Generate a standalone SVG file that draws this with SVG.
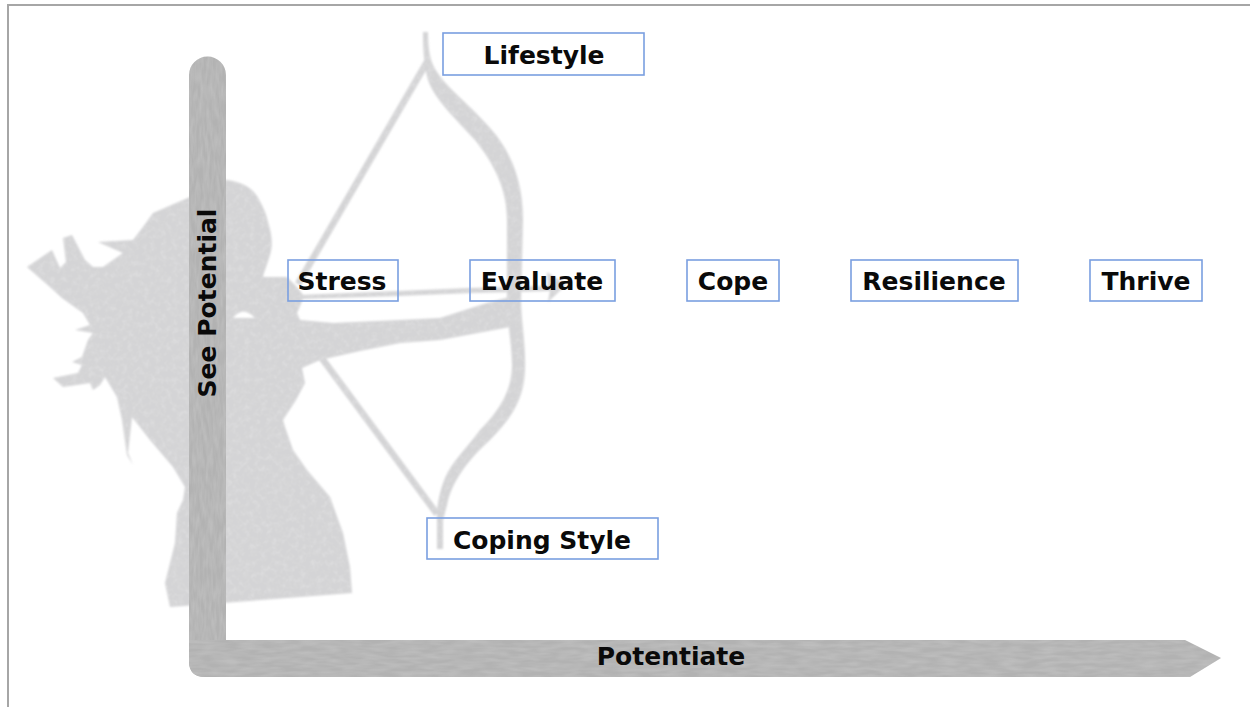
<svg xmlns="http://www.w3.org/2000/svg" width="1250" height="707" viewBox="0 0 1250 707">
<style>
.box{fill:none;stroke:#7a9fe0;stroke-width:1.6}
.t{font-family:"DejaVu Sans",sans-serif;font-weight:700;font-size:25px;fill:#0a0a0a;text-anchor:middle}
.frame{fill:none;stroke:#a6a6a6;stroke-width:2}
.bar{fill:#b2b2b2}
.str{fill:none;stroke:#d4d4d6;stroke-width:6.500}
</style>
<defs>
<filter id="texV" x="-5%" y="-5%" width="110%" height="110%"><feGaussianBlur in="SourceGraphic" stdDeviation="0.5" result="s"/><feTurbulence type="fractalNoise" baseFrequency="0.3 0.06" numOctaves="2" seed="3" result="n"/><feColorMatrix in="n" type="matrix" values="0 0 0 0 .62  0 0 0 0 .62  0 0 0 0 .62  0 0 0 .7 -.2"/><feComposite in2="s" operator="in" result="c"/><feMerge><feMergeNode in="s"/><feMergeNode in="c"/></feMerge></filter>
<filter id="texH" x="-1%" y="-5%" width="102%" height="110%"><feGaussianBlur in="SourceGraphic" stdDeviation="0.5" result="s"/><feTurbulence type="fractalNoise" baseFrequency="0.05 0.25" numOctaves="2" seed="8" result="n"/><feColorMatrix in="n" type="matrix" values="0 0 0 0 .62  0 0 0 0 .62  0 0 0 0 .62  0 0 0 .7 -.2"/><feComposite in2="s" operator="in" result="c"/><feMerge><feMergeNode in="s"/><feMergeNode in="c"/></feMerge></filter>
<filter id="sil" x="-3%" y="-3%" width="106%" height="106%"><feGaussianBlur in="SourceGraphic" stdDeviation="0.8" result="s"/><feTurbulence type="fractalNoise" baseFrequency="0.18" numOctaves="2" seed="5" result="n"/><feColorMatrix in="n" type="matrix" values="0 0 0 0 .88  0 0 0 0 .88  0 0 0 0 .88  0 0 0 .5 -.2"/><feComposite in2="s" operator="in" result="c"/><feMerge><feMergeNode in="s"/><feMergeNode in="c"/></feMerge></filter>
</defs>
<rect width="1250" height="707" fill="#fff"/>
<path class="frame" d="M8 707V5H1250"/>
<g id="archer" filter="url(#sil)" fill="#d4d4d6">
<path fill-rule="evenodd" d="M190 197C205 188 215 180 227 180C240 182 250 186 257 196C262 205 266 212 268 222C272 235 273 245 270 255C267 265 264 272 263 277L287 277L296 286L304 296L300 306L297 313L300 320L333 323L400 320L440 318L490 302L510 297L514 320L510 327L467 335L440 340L400 343L360 351L320 360L302 368L305 383L296 400L283 420L285 427L293 450L307 470L330 497L343 533L350 567L352 593L170 607L165 583L175 543L177 513L183 500L185 487L173 467L150 440L132 417L128 453L133 465L127 455L122 420L117 397L105 377L100 385L93 390L90 383L63 387L53 378L78 373L82 365L72 362L82 357L88 340L93 333L75 330L90 325L83 313L62 298L50 287L27 267L52 250L60 268L66 262L63 238L72 235L85 260L93 267L103 267L123 253L98 242L133 240L143 227L153 213Z M233 318Q243 305 255 318Z"/>
<path d="M428 32C428 50 430 62 437 72C447 88 470 105 490 128C510 150 523 180 523 220L521 300C521 320 526 345 525 370C524 400 510 420 490 440C470 458 452 480 447 505L443 520V549H437V515C437 505 440 490 445 478C452 462 465 450 480 430C500 410 512 390 512 365C512 345 508 330 507 300L507 220C507 190 495 165 475 140C455 118 435 100 428 80C424 65 423 50 423 32Z"/>
<path class="str" d="M427 62L298 284"/>
<path class="str" d="M318 353L437 514"/>
<path d="M300 295L398 291L470 288L548 286L547 272L566 285L548 302L550 291L470 293L398 296L300 299Z"/>
</g>
<g id="axes">
<path class="bar" filter="url(#texV)" d="M189 75A18.500 18.500 0 0 1 226 75V662H205V677Q189 677 189 661Z"/>
<path class="bar" filter="url(#texH)" d="M205 677Q189 677 189 661V640H1185L1221 658L1190 677Z"/>
</g>
<g id="node-see-potential"><text class="t" transform="translate(216 303) rotate(-90)">See Potential</text></g>
<g id="node-potentiate"><text class="t" x="671" y="665">Potentiate</text></g>
<g id="node-lifestyle"><rect class="box" x="443" y="33" width="201" height="42"/><text class="t" x="544" y="64">Lifestyle</text></g>
<g id="node-stress"><rect class="box" x="288" y="260" width="110" height="41"/><text class="t" x="342" y="290">Stress</text></g>
<g id="node-evaluate"><rect class="box" x="470" y="260" width="145" height="41"/><text class="t" x="542" y="290">Evaluate</text></g>
<g id="node-cope"><rect class="box" x="687" y="260" width="92" height="41"/><text class="t" x="733" y="290">Cope</text></g>
<g id="node-resilience"><rect class="box" x="851" y="260" width="167" height="41"/><text class="t" x="934" y="290">Resilience</text></g>
<g id="node-thrive"><rect class="box" x="1090" y="260" width="112" height="41"/><text class="t" x="1146" y="290">Thrive</text></g>
<g id="node-coping-style"><rect class="box" x="427" y="518" width="231" height="41"/><text class="t" x="542" y="549">Coping Style</text></g>
</svg>
